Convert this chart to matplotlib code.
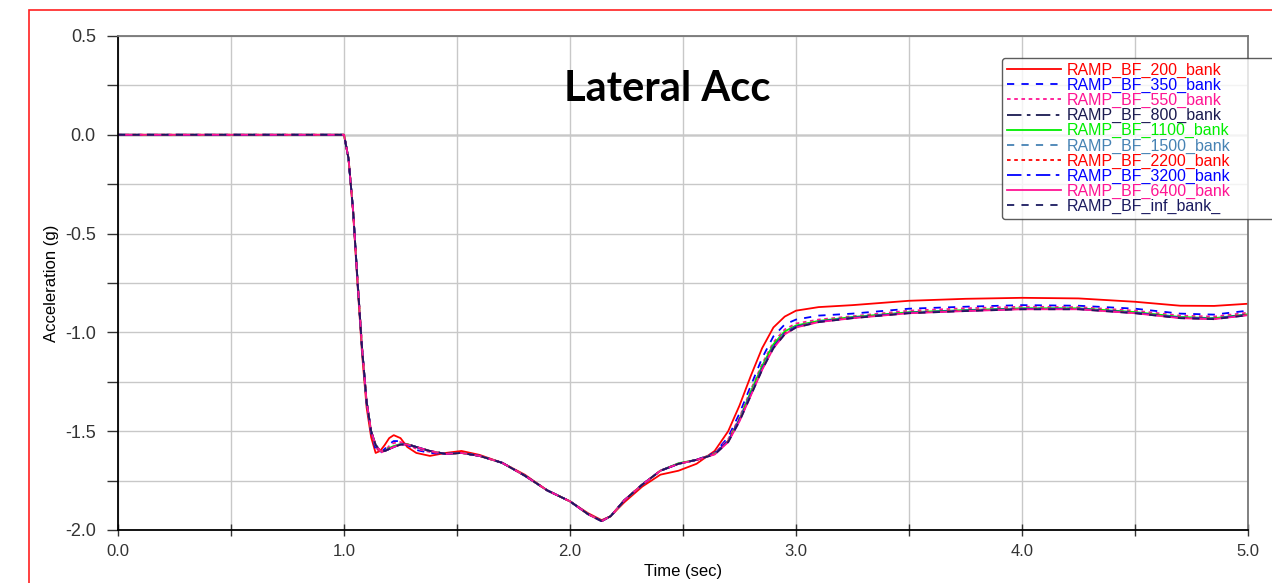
import numpy as np
import matplotlib.pyplot as plt
from matplotlib.patches import Rectangle
from matplotlib.ticker import MultipleLocator, FormatStrFormatter

# ==============================
# Data
# ==============================
time = [0.0, 1.00, 1.02, 1.04, 1.06, 1.08, 1.10, 1.12, 1.14, 1.16, 1.18, 1.20,
        1.22, 1.25, 1.28, 1.32, 1.38, 1.45, 1.52, 1.60, 1.70, 1.80, 1.90, 2.00,
        2.08, 2.14, 2.18, 2.24, 2.32, 2.40, 2.48, 2.56, 2.64, 2.70, 2.75, 2.80,
        2.85, 2.90, 2.95, 3.00, 3.10, 3.25, 3.50, 3.75, 4.00, 4.25, 4.50, 4.70,
        4.85, 5.00]

bf_200 = [0.0, 0.0, -0.12, -0.39, -0.76, -1.11, -1.38, -1.53, -1.61, -1.60, -1.57, -1.535,
          -1.52, -1.535, -1.58, -1.61, -1.625, -1.61, -1.60, -1.62, -1.66, -1.72, -1.80, -1.855,
          -1.915, -1.95, -1.93, -1.86, -1.78, -1.72, -1.70, -1.665, -1.60, -1.50, -1.37, -1.22,
          -1.08, -0.975, -0.92, -0.89, -0.872, -0.862, -0.84, -0.83, -0.825, -0.828, -0.845, -0.865,
          -0.866, -0.855]
bf_350 = [0.0, 0.0, -0.12, -0.38, -0.75, -1.09, -1.36, -1.51, -1.59, -1.61, -1.59, -1.565,
          -1.55, -1.55, -1.57, -1.595, -1.61, -1.615, -1.61, -1.625, -1.66, -1.725, -1.80, -1.855,
          -1.92, -1.955, -1.93, -1.85, -1.77, -1.70, -1.665, -1.645, -1.61, -1.53, -1.41, -1.27,
          -1.13, -1.02, -0.96, -0.935, -0.915, -0.905, -0.88, -0.87, -0.862, -0.865, -0.88, -0.905,
          -0.91, -0.89]
bf_550 = [0.0, 0.0, -0.12, -0.38, -0.74, -1.08, -1.35, -1.50, -1.58, -1.61, -1.60, -1.575,
          -1.56, -1.555, -1.565, -1.59, -1.605, -1.615, -1.61, -1.625, -1.66, -1.725, -1.80, -1.855,
          -1.92, -1.955, -1.93, -1.85, -1.77, -1.70, -1.665, -1.645, -1.612, -1.54, -1.43, -1.29,
          -1.16, -1.05, -0.985, -0.955, -0.935, -0.918, -0.89, -0.878, -0.87, -0.872, -0.89, -0.915,
          -0.92, -0.90]
bf_800 = [0.0, 0.0, -0.12, -0.38, -0.74, -1.08, -1.35, -1.50, -1.57, -1.60, -1.60, -1.59,
          -1.58, -1.565, -1.565, -1.58, -1.60, -1.615, -1.61, -1.625, -1.66, -1.725, -1.80, -1.855,
          -1.92, -1.955, -1.93, -1.85, -1.77, -1.70, -1.665, -1.645, -1.615, -1.55, -1.44, -1.31,
          -1.18, -1.07, -1.00, -0.97, -0.945, -0.925, -0.90, -0.89, -0.88, -0.88, -0.90, -0.925,
          -0.93, -0.91]
bf_1100 = [0.0, 0.0, -0.12, -0.38, -0.74, -1.08, -1.35, -1.50, -1.57, -1.60, -1.60, -1.585,
           -1.575, -1.565, -1.565, -1.58, -1.60, -1.615, -1.61, -1.625, -1.66, -1.725, -1.80, -1.855,
           -1.92, -1.955, -1.93, -1.85, -1.77, -1.70, -1.662, -1.645, -1.615, -1.55, -1.44, -1.30,
           -1.17, -1.06, -0.995, -0.965, -0.942, -0.922, -0.898, -0.887, -0.878, -0.878, -0.897, -0.922,
           -0.928, -0.908]
bf_1500 = [0.0, 0.0, -0.12, -0.38, -0.74, -1.08, -1.35, -1.50, -1.57, -1.60, -1.60, -1.59,
           -1.578, -1.566, -1.566, -1.58, -1.60, -1.615, -1.61, -1.625, -1.66, -1.725, -1.80, -1.855,
           -1.92, -1.955, -1.93, -1.85, -1.77, -1.70, -1.665, -1.645, -1.615, -1.55, -1.44, -1.31,
           -1.18, -1.07, -1.00, -0.97, -0.945, -0.925, -0.90, -0.89, -0.88, -0.88, -0.90, -0.925,
           -0.93, -0.91]
bf_2200 = [0.0, 0.0, -0.12, -0.38, -0.74, -1.08, -1.35, -1.50, -1.57, -1.60, -1.60, -1.59,
           -1.58, -1.567, -1.566, -1.58, -1.60, -1.615, -1.61, -1.625, -1.66, -1.725, -1.80, -1.855,
           -1.92, -1.955, -1.93, -1.85, -1.77, -1.70, -1.665, -1.645, -1.615, -1.55, -1.445, -1.315,
           -1.185, -1.075, -1.005, -0.972, -0.946, -0.926, -0.901, -0.89, -0.881, -0.881, -0.901, -0.926,
           -0.931, -0.911]
bf_3200 = [0.0, 0.0, -0.12, -0.38, -0.74, -1.08, -1.35, -1.50, -1.57, -1.60, -1.60, -1.59,
           -1.58, -1.568, -1.566, -1.58, -1.60, -1.615, -1.61, -1.625, -1.66, -1.725, -1.80, -1.855,
           -1.92, -1.955, -1.93, -1.85, -1.77, -1.70, -1.665, -1.645, -1.615, -1.55, -1.445, -1.315,
           -1.185, -1.075, -1.005, -0.972, -0.946, -0.926, -0.901, -0.89, -0.881, -0.881, -0.901, -0.926,
           -0.931, -0.911]
bf_6400 = [0.0, 0.0, -0.12, -0.38, -0.74, -1.08, -1.35, -1.50, -1.57, -1.60, -1.60, -1.59,
           -1.58, -1.568, -1.567, -1.58, -1.60, -1.615, -1.61, -1.625, -1.66, -1.725, -1.80, -1.855,
           -1.92, -1.955, -1.93, -1.85, -1.77, -1.70, -1.665, -1.645, -1.618, -1.555, -1.45, -1.32,
           -1.19, -1.08, -1.01, -0.975, -0.948, -0.928, -0.903, -0.892, -0.883, -0.883, -0.903, -0.928,
           -0.933, -0.913]
bf_inf = [0.0, 0.0, -0.12, -0.38, -0.74, -1.08, -1.35, -1.50, -1.57, -1.60, -1.60, -1.59,
          -1.58, -1.568, -1.567, -1.58, -1.60, -1.615, -1.61, -1.625, -1.66, -1.725, -1.80, -1.855,
          -1.92, -1.955, -1.93, -1.85, -1.77, -1.70, -1.665, -1.645, -1.618, -1.555, -1.45, -1.32,
          -1.19, -1.08, -1.01, -0.975, -0.948, -0.928, -0.903, -0.892, -0.883, -0.883, -0.903, -0.928,
          -0.933, -0.913]

labels = ["RAMP_BF_200_bank", "RAMP_BF_350_bank", "RAMP_BF_550_bank", "RAMP_BF_800_bank",
          "RAMP_BF_1100_bank", "RAMP_BF_1500_bank", "RAMP_BF_2200_bank", "RAMP_BF_3200_bank",
          "RAMP_BF_6400_bank", "RAMP_BF_inf_bank_"]
series = [bf_200, bf_350, bf_550, bf_800, bf_1100, bf_1500, bf_2200, bf_3200, bf_6400, bf_inf]

colors = ["#ff0000", "#0000ff", "#ff1493", "#1a1a50", "#00ee00",
          "#4682b4", "#ff0000", "#0000ff", "#ff1493", "#1a1a60"]
styles = ["-", (0, (4, 4)), (0, (2, 2)), (0, (8, 3, 2, 3)), "-",
          (0, (4, 4)), (0, (2, 2)), (0, (8, 3, 2, 3)), "-", (0, (4, 4))]

# ==============================
# Figure
# ==============================
plt.rcParams["font.family"] = ["Liberation Sans", "DejaVu Sans"]

fig = plt.figure(figsize=(12.72, 5.83), dpi=100)
fig.patches.append(Rectangle((29 / 1272, -0.1), 1.0, 1.1 - 10 / 583, transform=fig.transFigure,
                             fill=False, edgecolor="#ff2020", linewidth=1.2))

ax = fig.add_axes([118 / 1272, 53 / 583, 1130 / 1272, 494 / 583])

for y, lab, c, ls in zip(series, labels, colors, styles):
    ax.plot(time, y, color=c, linestyle=ls, linewidth=1.3, label=lab)

ax.axhline(0, color="#555555", linewidth=1.0, zorder=0)

ax.set_xlim(0, 5)
ax.set_ylim(-2.0, 0.5)
ax.xaxis.set_major_locator(MultipleLocator(1.0))
ax.xaxis.set_minor_locator(MultipleLocator(0.5))
ax.yaxis.set_major_locator(MultipleLocator(0.5))
ax.yaxis.set_minor_locator(MultipleLocator(0.25))
ax.xaxis.set_major_formatter(FormatStrFormatter("%.1f"))
ax.yaxis.set_major_formatter(FormatStrFormatter("%.1f"))

ax.grid(which="both", color="#c8c8c8", linewidth=1.0)
ax.set_axisbelow(True)

ax.tick_params(axis="y", which="both", direction="out", length=8, width=1, color="#333333",
               labelsize=13, labelcolor="#333333", pad=8)
ax.tick_params(axis="x", which="both", direction="inout", length=8, width=1, color="#333333",
               labelsize=12, labelcolor="#333333", pad=6)

for side in ["left", "bottom"]:
    ax.spines[side].set_color("black")
    ax.spines[side].set_linewidth(1.3)
for side in ["top", "right"]:
    ax.spines[side].set_color("#777777")
    ax.spines[side].set_linewidth(1.3)

ax.set_xlabel("Time (sec)", fontsize=12, labelpad=4)
ax.set_ylabel("Acceleration (g)", fontsize=12, labelpad=4)

fig.text(667 / 1272, 1 - 89 / 583, "Lateral Acc", ha="center", va="center",
         fontsize=30, fontweight="bold", family=["Lato", "DejaVu Sans"])

# legend box runs past the right edge of the picture, as in the reference
leg = ax.legend(loc="upper left", bbox_to_anchor=(1002 / 1272, 1 - 207 / 583, 320 / 1272, 149 / 583),
                bbox_transform=fig.transFigure, mode="expand", fontsize=11.5, frameon=True,
                handlelength=3.4, handletextpad=0.35, labelspacing=0.0,
                borderpad=0.3, borderaxespad=0, fancybox=True, edgecolor="#333333")
leg.get_frame().set_linewidth(1.0)
for txt, c in zip(leg.get_texts(), colors):
    txt.set_color(c)

fig.savefig("out.png", dpi=100)
